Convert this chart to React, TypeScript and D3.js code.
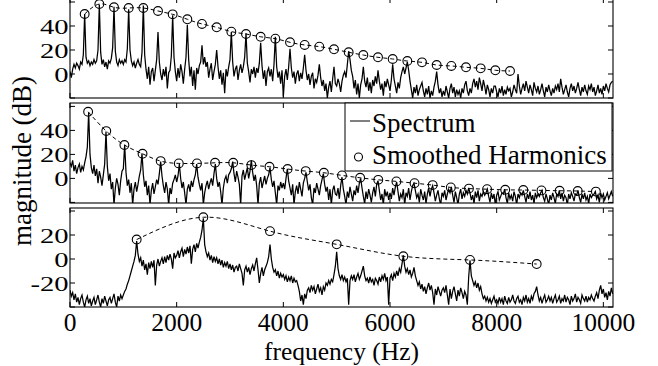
import React from "react";
import * as d3 from "d3";

// ---------- data ----------
const BIN_HZ = 25;
const FREQ_MAX = 10181;
const freqTicks = [0, 2000, 4000, 6000, 8000, 10000];

// Panel 1 spectrum (dB), one value per 25 Hz bin
const spectrum1 = [
  2, -3, 4, 8, 5, 9, 7, 4, 10, 8, 16, 50, 14, 9, 11, 7, 10, 8, 12, 9,
  11, 20, 58, 18, 8, 12, 6, 10, 4, 11, 9, 13, 22, 56, 19, 10, 7, 12, 9, 11,
  8, 12, 10, 21, 54, 20, 11, 7, 10, 5, 9, 12, 8, 6, 18, 57, 16, 4, -4, 6,
  -9, 2, 5, -6, 3, 12, 35, 10, 0, -5, 4, -2, 6, -12, 1, 3, 15, 49, 14, 2,
  -6, 5, -3, 8, 2, -8, 4, 14, 41, 12, -2, 6, -10, 3, -13, 5, 0, 7, 10, 24,
  8, 14, 6, 10, -3, 4, 9, -5, 2, 8, 20, 6, -4, 3, -9, 1, -16, 4, -2, 6,
  12, 35, 10, -2, 4, 7, -5, 3, 8, 1, 6, 14, 34, 9, 2, -7, 4, 0, 6, -3,
  5, 1, 9, 26, 7, -4, 3, -10, 2, 5, -2, 4, -6, 8, 31, 6, -3, 2, -8, 3,
  -19, -2, 4, -5, 6, 21, 5, -3, 2, -8, 0, 3, -6, 1, -4, 5, 16, 3, -5, 0,
  -9, -2, 1, -12, -4, -7, -1, 8, -3, -10, -5, -14, -8, -20, -11, -6, -15, -4, 6, -8,
  -10, -4, -8, -15, -6, -1, 2, -3, 8, 19, 12, 3, -2, -12, -5, -17, -8, -20, -9, -4,
  6, -6, -11, -3, -14, -7, -16, -5, -10, -2, -8, 3, -6, -13, -8, -18, -6, -11, -4, -9,
  -14, -5, 8, -4, -10, -16, -7, -12, -3, 2, 6, 0, 5, 10, 3, -6, -13, -20, -11, -16,
  -9, -18, -13, -10, -7, -14, -19, -12, -17, -10, -20, -14, -18, -11, -6, 2, -9, -16, -12, -19,
  -14, -18, -10, -15, -20, -12, -8, -16, -11, -19, -13, -17, -14, -20, -12, -16, -9, -6, -14, -18,
  -12, -16, -8, -4, -11, -6, -13, -3, -8, -14, -5, -10, -17, -9, -13, -19, -12, -16, -10, -10,
  -15, -19, -12, -16, -10, -18, -13, -17, -11, -14, -12, -19, -15, -9, -13, -16, 0, -10, -17, -12,
  -8, -14, -6, -11, -16, -9, -13, -18, -7, -12, -15, -10, -17, -13, -8, -14, -19, -11, -15, -9,
  -14, -18, -12, -16, -10, -13, -8, -15, -4, -11, -17, -13, -9, -15, -19, -12, -8, -14, -10, -16,
  -12, -7, -13, -18, -11, -15, -9, -14, -17, -10, -13, -8, -15, -11, -18, -14, -9, -16, -12, -17,
  -10, -14, -8, -12, -15, -9, -7, -6,
];

// Panel 2 spectrum (dB)
const spectrum2 = [
  13, 10, 15, 6, 11, 4, 9, 12, 5, 10, 7, 13, 18, 26, 55, 20, 9, 4, 11, 2,
  8, -4, 6, 1, -6, 3, 12, 39, 10, -2, 4, -9, -3, -22, -8, 0, -5, -14, -2, 6,
  8, 28, 5, -6, -1, -12, -4, -22, -9, -3, -11, -5, 2, 7, 21, 3, -7, -2, -14, -6,
  -22, -10, -4, -13, -7, -1, -5, 4, 14, 2, -6, -12, -3, -9, -22, -8, -13, -4, -1, 3,
  -3, 2, 12, 0, -8, -3, -12, -22, -9, -5, -11, -2, -7, -1, 3, 12, 1, -5, -10, -4,
  -22, -12, -6, -2, -9, -4, 0, -6, 4, 12, 0, -7, -3, -11, -22, -8, -1, 2, -4, 3,
  5, 8, 14, 4, -3, 6, 1, -5, -22, 2, 7, -1, 4, 9, 0, 6, 15, 5, -2, 3,
  -6, -22, -4, 1, -8, -3, 2, -5, 0, 3, 9, -1, -7, -2, -12, -22, -6, -10, -3, -8,
  -4, -9, 0, 8, -2, -8, -14, -5, -22, -11, -6, -13, -3, -9, -15, -4, 0, 5, -3, -10,
  -5, -16, -22, -8, -12, -4, -9, -14, -6, -1, 4, -5, -11, -7, -18, -9, -22, -10, -6, -13,
  -14, -8, -17, -6, 1, -9, -15, -22, -11, -16, -7, -13, -19, -10, -14, -6, -12, -4, 0, -8,
  -15, -21, -11, -17, -9, -14, -20, -12, -7, -15, -5, -2, -10, -18, -13, -22, -9, -15, -11, -18,
  -12, -17, -8, -14, -7, -3, -11, -19, -13, -16, -9, -22, -12, -15, -8, -18, -11, -6, -4, -10,
  -16, -13, -20, -9, -14, -18, -11, -21, -13, -8, -15, -9, -6, -12, -19, -14, -10, -17, -22, -12,
  -15, -10, -18, -13, -9, -12, -7, -14, -20, -11, -16, -22, -13, -9, -17, -12, -15, -10, -13, -8,
  -12, -18, -14, -21, -11, -16, -10, -19, -13, -15, -11, -14, -12, -9, -15, -20, -12, -17, -13, -22,
  -14, -11, -18, -15, -12, -13, -9, -16, -21, -12, -17, -14, -19, -11, -15, -22, -13, -16, -12, -14,
  -10, -15, -20, -13, -17, -11, -18, -14, -21, -12, -16, -13, -15, -12, -10, -16, -19, -13, -17, -22,
  -14, -18, -12, -16, -21, -13, -15, -10, -17, -12, -19, -14, -16, -22, -13, -17, -12, -15, -19, -13,
  -14, -10, -16, -20, -13, -17, -12, -18, -15, -21, -13, -16, -14, -13, -11, -17, -14, -20, -12, -16,
  -13, -18, -15, -12, -17, -14, -11, -15,
];

// Panel 3 spectrum (dB)
const spectrum3 = [
  -26, -31, -28, -34, -29, -36, -32, -38, -33, -30, -36, -40, -34, -31, -37, -33, -39, -35, -32, -38,
  -34, -30, -36, -40, -33, -37, -31, -35, -39, -34, -32, -37, -33, -29, -36, -40, -31, -35, -30, -33,
  -30, -27, -25, -21, -18, -14, -10, -6, -2, 3, 15, 4, -2, 1, -6, -1, -9, -4, -13, -3,
  -8, -2, -7, -1, -22, -5, 0, -6, -2, 1, -4, 2, -3, 3, -1, 4, 0, -8, 5, 1,
  3, 7, 1, 6, 9, 2, 8, 4, 10, 5, 11, -4, 8, 12, 6, 13, 9, 14, 18, 24,
  34, 12, 6, 2, 5, -1, 3, -3, 2, -2, 1, -4, 0, -5, -1, -7, -3, -6, -2, -8,
  -4, -9, -5, -11, -7, -6, -10, -4, -8, -12, -22, -9, -6, -11, -7, -13, -8, -5, -10, -4,
  1, -9, -20, -12, -7, -14, -9, -6, -3, 2, 12, 0, -7, -11, -9, -14, -10, -16, -12, -15,
  -13, -17, -14, -19, -15, -18, -14, -20, -16, -19, -18, -22, -27, -35, -30, -38, -29, -33, -26, -24,
  -28, -22, -26, -23, -29, -25, -21, -27, -24, -30, -23, -26, -20, -22, -18, -21, -17, -19, -13, -6,
  6, -8, -14, -17, -13, -18, -15, -19, -16, -38, -18, -14, -17, -13, -19, -15, -12, -17, -14, -10,
  -6, -14, -18, -16, -20, -15, -19, -17, -22, -16, -18, -21, -15, -19, -14, -17, -12, -18, -15, -38,
  -16, -13, -18, -12, -15, -10, -14, -8, -11, -4, 3, -6, -11, -8, -13, -9, -15, -12, -7, -14,
  -18, -22, -19, -25, -21, -27, -23, -29, -24, -20, -26, -22, -28, -38, -25, -30, -23, -27, -31, -26,
  -24, -28, -22, -30, -38, -25, -33, -27, -23, -29, -35, -26, -31, -24, -28, -33, -27, -30, -38, -15,
  -1, -14, -18, -22, -19, -24, -20, -26, -23, -29, -33, -31, -35, -32, -36, -33, -37, -34, -31, -36,
  -34, -37, -32, -36, -33, -38, -31, -35, -37, -32, -36, -34, -30, -35, -37, -33, -31, -36, -34, -38,
  -32, -35, -30, -36, -33, -37, -31, -34, -29, -27, -23, -30, -35, -32, -37, -33, -30, -36, -34, -31,
  -35, -32, -37, -33, -30, -36, -34, -31, -37, -33, -35, -30, -36, -32, -34, -38, -31, -35, -33, -29,
  -36, -32, -34, -37, -30, -33, -35, -31, -36, -32, -34, -30, -33, -35, -31, -28, -33, -26, -22, -29,
  -25, -32, -28, -34, -27, -31, -24, -29,
];

// Smoothed harmonics (Hz, dB)
const harmonicHz1 = [275, 550, 825, 1100, 1375, 1650, 1925, 2200, 2475, 2750, 3025, 3300, 3575, 3850, 4125,
  4400, 4675, 4950, 5225, 5500, 5775, 6050, 6325, 6600, 6875, 7150, 7425, 7700, 7975, 8250];
const harmonicDb1 = [50, 58.3, 55.6, 55, 55, 52.5, 49.7, 45.6, 41.7, 38.9, 35.3, 33.3, 31, 29.4, 26.4,
  24.2, 22.8, 20.6, 18.1, 15.8, 13.9, 12.5, 10.8, 9.7, 7.5, 6.7, 5.6, 4.7, 3.1, 2.5];

const harmonicHz2 = [340, 680, 1020, 1360, 1700, 2040, 2380, 2720, 3060, 3400, 3740, 4080, 4420, 4760, 5100,
  5440, 5780, 6120, 6460, 6800, 7140, 7480, 7820, 8160, 8500, 8840, 9180, 9520, 9860];
const harmonicDb2 = [55.5, 39.4, 27.8, 20.5, 14.4, 12.5, 12.5, 13, 13, 11.1, 9.7, 7.8, 6.1, 4.7, 2.5,
  0.5, -1.2, -2.5, -4, -5.6, -7.5, -8.5, -9, -9.5, -9.7, -10, -10.3, -10.5, -11];

const harmonicHz3 = [1250, 2500, 3750, 5000, 6250, 7500, 8750];
const harmonicDb3 = [16.2, 34.8, 23.2, 12.2, 2.3, -0.8, -4.2];

const yTicks1 = [-20, 0, 20, 40, 60];
const yLabels1 = [0, 20, 40];
const yTicks3 = [-40, -20, 0, 20, 40];
const yLabels3 = [-20, 0, 20];

const legendLabels = ["Spectrum", "Smoothed Harmonics"];
const xAxisTitle = "frequency (Hz)";
const yAxisTitle = "magnitude (dB)";

// ---------- layout ----------
const W = 658;
const H = 366;
const LEFT = 70;
const RIGHT = 613;
const FONT = '"Liberation Serif", "Times New Roman", Times, serif';
const TICK = 5;

type PanelSpec = {
  top: number;
  height: number;
  domain: [number, number];
  ticks: number[];
  labels: number[];
  spectrum: number[];
  hz: number[];
  db: number[];
};

const panels: PanelSpec[] = [
  { top: -2, height: 100, domain: [-20, 63.33], ticks: yTicks1, labels: yLabels1, spectrum: spectrum1, hz: harmonicHz1, db: harmonicDb1 },
  { top: 103, height: 100, domain: [-20.5, 62.83], ticks: yTicks1, labels: yLabels1, spectrum: spectrum2, hz: harmonicHz2, db: harmonicDb2 },
  { top: 208, height: 99, domain: [-40, 42.5], ticks: yTicks3, labels: yLabels3, spectrum: spectrum3, hz: harmonicHz3, db: harmonicDb3 },
];

const fmt = (v: number) => (v < 0 ? "-" + Math.abs(v) : String(v));

const x = d3.scaleLinear().domain([0, FREQ_MAX]).range([LEFT, RIGHT]);

function Panel({ p, idx, showX }: { p: PanelSpec; idx: number; showX: boolean }) {
  const bottom = p.top + p.height;
  const y = d3.scaleLinear().domain(p.domain).range([bottom, p.top]);
  const specLine = d3
    .line<number>()
    .x((_, i) => x(i * BIN_HZ))
    .y((d) => y(d));
  const pts: [number, number][] = p.hz.map((f, i) => [f, p.db[i]]);
  const envLine = d3
    .line<[number, number]>()
    .x((d) => x(d[0]))
    .y((d) => y(d[1]))
    .curve(d3.curveNatural);
  const clipId = `clip-panel-${idx}`;
  return (
    <g>
      <defs>
        <clipPath id={clipId}>
          <rect x={LEFT} y={p.top} width={RIGHT - LEFT} height={p.height} />
        </clipPath>
      </defs>
      <path
        d={specLine(p.spectrum) || ""}
        fill="none"
        stroke="#000"
        strokeWidth={1.25}
        strokeLinejoin="miter"
        clipPath={`url(#${clipId})`}
      />
      <path d={envLine(pts) || ""} fill="none" stroke="#000" strokeWidth={1} strokeDasharray="4,3" />
      {pts.map((d, i) => (
        <circle key={i} cx={x(d[0])} cy={y(d[1])} r={4.4} fill="none" stroke="#000" strokeWidth={1.1} />
      ))}
      {freqTicks.map((f) => (
        <g key={`xt${f}`}>
          <line x1={x(f)} x2={x(f)} y1={bottom} y2={bottom - TICK} stroke="#000" strokeWidth={1} />
          <line x1={x(f)} x2={x(f)} y1={p.top} y2={p.top + TICK} stroke="#000" strokeWidth={1} />
        </g>
      ))}
      {p.ticks.map((v) => (
        <g key={`yt${v}`}>
          <line x1={LEFT} x2={LEFT + TICK} y1={y(v)} y2={y(v)} stroke="#000" strokeWidth={1} />
          <line x1={RIGHT} x2={RIGHT - TICK} y1={y(v)} y2={y(v)} stroke="#000" strokeWidth={1} />
        </g>
      ))}
      <rect x={LEFT} y={p.top} width={RIGHT - LEFT} height={p.height} fill="none" stroke="#000" strokeWidth={1.1} />
      {p.labels.map((v) => (
        <text
          key={`yl${v}`}
          transform={`translate(${LEFT - 1.5},${y(v) + 8}) scale(1.3,1)`}
          textAnchor="end"
          fontSize={22}
          fontFamily={FONT}
        >
          {fmt(v)}
        </text>
      ))}
      {showX &&
        freqTicks.map((f) => (
          <text key={`xl${f}`} x={x(f)} y={331} textAnchor="middle" fontSize={25.5} fontFamily={FONT}>
            {f}
          </text>
        ))}
    </g>
  );
}

function Legend() {
  const lx = 345;
  const ly = 103;
  const lw = 267;
  const lh = 68;
  return (
    <g>
      <rect x={lx} y={ly} width={lw} height={lh} fill="#fff" stroke="#000" strokeWidth={1} />
      <line x1={350} x2={370} y1={121} y2={121} stroke="#000" strokeWidth={1} />
      <text x={372} y={131.5} fontSize={27} fontFamily={FONT}>
        {legendLabels[0]}
      </text>
      <circle cx={358.5} cy={157} r={4} fill="none" stroke="#000" strokeWidth={1.1} />
      <text x={372} y={163.5} fontSize={27} fontFamily={FONT}>
        {legendLabels[1]}
      </text>
    </g>
  );
}

export default function App() {
  return (
    <div style={{ position: "absolute", left: 0, top: 0, width: W, height: H, background: "#fff" }}>
      <svg width={W} height={H} viewBox={`0 0 ${W} ${H}`} style={{ display: "block" }}>
        <rect x={0} y={0} width={W} height={H} fill="#fff" />
        {panels.map((p, i) => (
          <Panel key={i} p={p} idx={i} showX={i === panels.length - 1} />
        ))}
        <Legend />
        <text
          transform="translate(31,161) rotate(-90)"
          textAnchor="middle"
          fontSize={27}
          fontFamily={FONT}
        >
          {yAxisTitle}
        </text>
        <text x={341.5} y={359.5} textAnchor="middle" fontSize={25.5} fontFamily={FONT}>
          {xAxisTitle}
        </text>
      </svg>
    </div>
  );
}
